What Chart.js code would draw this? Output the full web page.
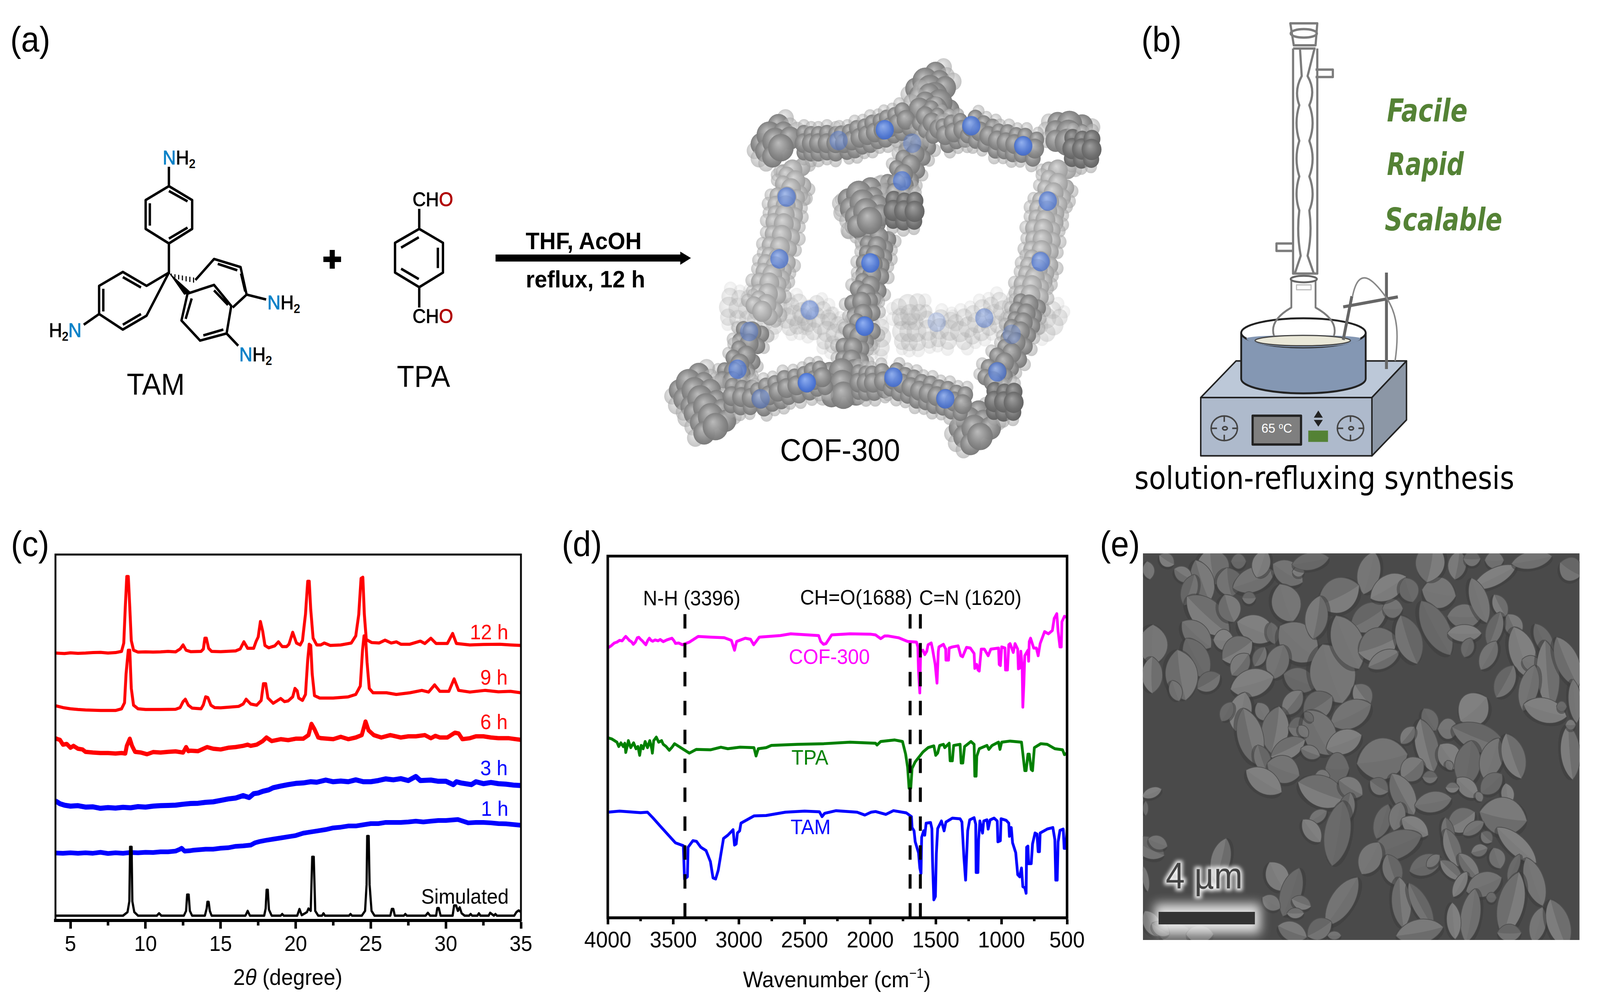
<!DOCTYPE html>
<html><head><meta charset="utf-8">
<script src="https://cdn.jsdelivr.net/npm/chart.js@4"></script>
<style>
html,body{margin:0;padding:0;background:#fff;width:100%;height:100%;overflow:hidden}
#stage{position:absolute;left:0;top:0;width:4386px;height:2553px;transform-origin:0 0;background:#fff}
svg{position:absolute;left:0;top:0}
canvas{position:absolute}
text{font-family:"Liberation Sans",Arial,sans-serif}
.ns{vector-effect:non-scaling-stroke}
</style></head><body>
<div id="stage">
<svg id="art" width="4386" height="2553" viewBox="0 0 4386 2553" xmlns="http://www.w3.org/2000/svg">
<defs>
<radialGradient id="gK" cx=".5" cy=".5" r=".6" fx=".4" fy=".32"><stop offset="0" stop-color="#a0a0a0"/><stop offset=".6" stop-color="#727272"/><stop offset="1" stop-color="#5c5c5c"/></radialGradient>
<radialGradient id="gD" cx=".5" cy=".5" r=".6" fx=".4" fy=".32"><stop offset="0" stop-color="#bcbcbc"/><stop offset=".6" stop-color="#8a8a8a"/><stop offset="1" stop-color="#6e6e6e"/></radialGradient>
<radialGradient id="gM" cx=".5" cy=".5" r=".6" fx=".4" fy=".32"><stop offset="0" stop-color="#d8d8d8"/><stop offset=".7" stop-color="#a8a8a8"/><stop offset="1" stop-color="#929292"/></radialGradient>
<radialGradient id="gB" cx=".5" cy=".5" r=".6" fx=".4" fy=".32"><stop offset="0" stop-color="#8fb0f5"/><stop offset=".7" stop-color="#4a75d8"/><stop offset="1" stop-color="#3c62c0"/></radialGradient>
<clipPath id="semClip"><rect x="3133" y="1417" width="1197" height="990"/></clipPath>
<filter id="blur14" x="-30%" y="-60%" width="160%" height="220%"><feGaussianBlur stdDeviation="14"/></filter>
<filter id="blur5" x="-30%" y="-30%" width="160%" height="160%"><feGaussianBlur stdDeviation="5"/></filter>
</defs>

<!-- panel letters -->
<g font-size="90" fill="#000">
<text x="28" y="132">(a)</text><text x="3129" y="132">(b)</text>
<text x="30" y="1424">(c)</text><text x="1540" y="1424">(d)</text><text x="3015" y="1424">(e)</text>
</g>

<!-- (a) structures -->
<g transform="scale(1.2755,.829)" fill="none" stroke="#000" stroke-width="6.5" stroke-linejoin="round">
<path class="ns" d="M363,575 L413,618 V707 L363,752 L313,707 V618 Z M363,590 L403,622 M363,737 L403,703 M322,628 V697 M363,575 V515 M363,752 V842"/>
<path class="ns" d="M363,842 L315,883 L264,840 L213,883 V970 L264,1018 L315,975 Z M264,856 L303,888 M222,892 V962 M264,1003 L303,970 M213,970 L180,1003"/>
<path class="ns" d="M420,865 L460,800 L517,825 L530,910 L500,950 M468,815 L510,835 M518,845 L527,900 M530,910 L572,925"/>
<path class="ns" d="M403,907 L460,880 L497,945 L487,1030 L430,1052 L390,990 Z M412,922 L399,985 M437,1036 L480,1018 M460,897 L490,942 M487,1030 L512,1068"/>
<path class="ns" d="M901,707 L952,750 V842 L901,887 L849,842 V750 Z M862,765 L900,733 M941,765 V828 M862,830 L900,862 M901,707 V645 M901,887 V950"/>
<path d="M363,842 L410,903 L396,910 Z" fill="#000" stroke="#000" stroke-width="1" class="ns"/>
<path class="ns" d="M368,845 V853 M376,847 V858 M384,849 V863 M392,851 V866 M400,853 V869 M408,855 V871 M416,857 V873" stroke-width="3"/>
<path class="ns" d="M695,801 H733 M714,772 V830" stroke-width="14"/>
<path class="ns" d="M1065,797 H1465" stroke-width="18"/>
<path d="M1462,777 L1485,797 L1462,818 Z" fill="#000" stroke="none"/>
</g>
<g font-size="50" stroke-width="1.2" fill="#000" stroke="#000">
<text x="446" y="421"><tspan fill="#0a82c8" stroke="#0a82c8">N</tspan>H<tspan font-size="31" dy="9">2</tspan></text>
<text x="134" y="863">H<tspan font-size="31" dy="9">2</tspan><tspan dy="-9" fill="#0a82c8" stroke="#0a82c8">N</tspan></text>
<text x="733" y="792"><tspan fill="#0a82c8" stroke="#0a82c8">N</tspan>H<tspan font-size="31" dy="9">2</tspan></text>
<text x="656" y="925"><tspan fill="#0a82c8" stroke="#0a82c8">N</tspan>H<tspan font-size="31" dy="9">2</tspan></text>
<text x="1131" y="528">CH<tspan fill="#b00000" stroke="#b00000">O</tspan></text>
<text x="1131" y="827">CH<tspan fill="#b00000" stroke="#b00000">O</tspan></text>
</g>
<g font-size="78" fill="#000" text-anchor="middle">
<text x="427" y="1011">TAM</text><text x="1161" y="991">TPA</text>
</g>
<g font-size="62" font-weight="700" fill="#000" text-anchor="middle">
<text x="1600" y="638">THF, AcOH</text><text x="1605" y="736">reflux, 12 h</text>
</g>
<g id="cof"></g>
<text x="2303" y="1180" font-size="80" fill="#000" text-anchor="middle">COF-300</text>

<!-- (b) reflux set-up -->
<g transform="translate(2900,0) scale(.948,.829)" stroke-linejoin="round">
<g fill="none" stroke="#7c7c7c" stroke-width="6">
<path class="ns" d="M672,72 H750 L745,140 H682 Z M680,150 H745 M680,150 V845 H750 V150"/>
<ellipse class="ns" cx="711" cy="103" rx="38" ry="13"/>
<path class="ns" d="M745,215 H795 V238 H745 M680,752 H632 V775 H680"/>
<path class="ns" d="M700,150 L705,235 Q682,280 698,325 Q682,380 698,435 Q682,490 698,545 Q682,600 698,650 Q690,720 702,790 L685,845"/>
<path class="ns" d="M742,150 L722,235 Q746,280 727,325 Q746,380 727,435 Q746,490 727,545 Q746,600 727,650 Q736,720 722,790 L740,845"/>
</g>
<path d="M515,1115 H1008 L908,1228 H413 Z" fill="#bcc8d8" stroke="#222" stroke-width="4" class="ns"/>
<path d="M908,1228 L1008,1115 V1297 L908,1408 Z" fill="#8c97a6" stroke="#222" stroke-width="4" class="ns"/>
<rect x="413" y="1228" width="495" height="180" fill="#aebacc" stroke="#222" stroke-width="4" class="ns"/>
<path d="M530,1028 V1170 A180,45 0 0 0 890,1170 V1028 Z" fill="#8497b3" stroke="#222" stroke-width="5" class="ns"/>
<ellipse cx="710" cy="1028" rx="180" ry="45" fill="#fff" stroke="#222" stroke-width="5" class="ns"/>
<path d="M545,1045 A165,28 0 0 0 875,1045 A165,10 0 0 0 545,1045 Z" fill="#8497b3" stroke="none"/>
<ellipse cx="708" cy="1052" rx="138" ry="16" fill="#eae8d8" stroke="#444" stroke-width="3" class="ns"/>
<path d="M675,860 V950 Q610,990 625,1038 M745,860 V950 Q812,990 798,1038" fill="none" stroke="#7c7c7c" stroke-width="5" class="ns"/>
<path d="M690,880 H732 V895 H690 Z" fill="none" stroke="#bbb" stroke-width="3" class="ns"/>
<ellipse cx="711" cy="862" rx="38" ry="10" fill="#fff" stroke="#666" stroke-width="5" class="ns"/>
<path d="M850,915 L825,1050 M950,842 V1140 M825,948 L983,917" fill="none" stroke="#666" stroke-width="8" class="ns"/>
<path d="M852,915 C870,820 910,860 950,920 C985,975 985,1040 975,1115" fill="none" stroke="#888" stroke-width="4" class="ns"/>
<rect x="563" y="1284" width="140" height="89" fill="#7f7f7f" stroke="#222" stroke-width="6" class="ns"/>
<path d="M753,1268 L766,1290 H740 Z M753,1318 L766,1297 H740 Z" fill="#222"/>
<rect x="724" y="1330" width="57" height="35" fill="#548235"/>
<g fill="none" stroke="#444" stroke-width="4">
<circle class="ns" cx="481" cy="1323" r="38"/><ellipse class="ns" cx="483" cy="1323" rx="7" ry="5"/>
<path class="ns" d="M443,1323 H460 M504,1323 H519 M481,1285 V1303 M481,1343 V1361"/>
<circle class="ns" cx="846" cy="1323" r="38"/><ellipse class="ns" cx="848" cy="1323" rx="7" ry="5"/>
<path class="ns" d="M808,1323 H825 M869,1323 H884 M846,1285 V1303 M846,1343 V1361"/>
</g>
</g>
<text x="3500" y="1108" font-size="34" fill="#fff" text-anchor="middle">65 <tspan font-size="22" dy="-10">o</tspan><tspan dy="10">C</tspan></text>
<g fill="#548235" font-style="italic" font-weight="700" font-size="80">
<text x="3802" y="311" textLength="221" lengthAdjust="spacingAndGlyphs" style="font-family:'DejaVu Sans'">Facile</text>
<text x="3802" y="448" textLength="211" lengthAdjust="spacingAndGlyphs" style="font-family:'DejaVu Sans'">Rapid</text>
<text x="3796" y="590" textLength="322" lengthAdjust="spacingAndGlyphs" style="font-family:'DejaVu Sans'">Scalable</text>
</g>
<text x="3110" y="1252" font-size="80" fill="#000" textLength="1041" lengthAdjust="spacingAndGlyphs" style="font-family:'DejaVu Sans'">solution-refluxing synthesis</text>

<!-- (e) SEM -->
<g clip-path="url(#semClip)">
<rect x="3133" y="1417" width="1197" height="990" fill="#4a4a4a"/>
<g id="sem"></g>
<rect x="3165" y="2315" width="290" height="75" fill="#f4f4f4" opacity=".9" filter="url(#blur14)"/>
<rect x="3176" y="2335" width="264" height="32" fill="#333"/>
<text x="3301" y="2275" font-size="94" text-anchor="middle" fill="none" stroke="#eee" stroke-width="12" filter="url(#blur5)">4 µm</text>
<text x="3301" y="2275" font-size="94" text-anchor="middle" fill="#444">4 µm</text>
</g>
</svg>
<canvas id="chartC" width="1440" height="1173" style="left:60px;top:1380px"></canvas>
<canvas id="chartD" width="1480" height="1173" style="left:1520px;top:1380px"></canvas>
</div>
<script>
// The browser window may be narrower than the 4386 x 2553 layout: fit the whole stage to it.
document.getElementById('stage').style.transform=`scale(${innerWidth/4386},${innerHeight/2553})`;

// ---------- Panel (c): PXRD traces. x = 2-theta (degree); y = reading below the frame top (a.u.) ----------
const xrdTicks=[5,10,15,20,25,30,35];
const xrdMinor=[7.5,12.5,17.5,22.5,27.5,32.5];
const h12=[[4,412],[4.6,414],[5,411],[5.5,413],[6,412],[6.5,410],[7,409],[7.5,412],[8,410],[8.4,405],[8.55,370],[8.65,220],[8.75,92],[8.85,92],[8.95,220],[9.05,360],[9.2,400],[9.5,408],[10,407],[10.5,408],[11,407],[11.5,405],[12,407],[12.3,395],[12.5,378],[12.7,400],[13,406],[13.7,405],[13.85,395],[13.95,350],[14.05,350],[14.2,392],[14.4,405],[15,406],[16,403],[16.3,395],[16.55,365],[16.8,392],[17.2,392],[17.35,365],[17.5,345],[17.65,280],[17.8,320],[17.95,380],[18.2,390],[18.6,382],[18.85,365],[19.1,385],[19.4,385],[19.55,375],[19.8,325],[20.05,370],[20.3,378],[20.45,360],[20.65,250],[20.8,112],[20.9,112],[21,230],[21.16,350],[21.4,378],[21.67,378],[21.9,370],[22.3,380],[23,378],[23.7,370],[24,340],[24.2,250],[24.35,100],[24.47,95],[24.57,250],[24.7,355],[25.05,368],[25.55,370],[25.95,358],[26.36,370],[26.7,365],[27,375],[27.6,375],[28.3,362],[28.6,372],[29,350],[29.35,372],[30.1,372],[30.45,330],[30.7,372],[31.6,378],[32.5,376],[33.6,375],[34.3,378],[35,380]];
const h9=[[4,632],[4.5,640],[5,645],[5.5,648],[6,650],[7,652],[8,652],[8.4,645],[8.6,620],[8.7,500],[8.85,400],[8.95,400],[9.05,560],[9.2,630],[9.5,645],[10,648],[11,648],[12,647],[12.3,640],[12.5,615],[12.65,605],[12.85,630],[13.1,642],[13.7,645],[13.85,628],[14,595],[14.15,598],[14.35,630],[14.6,640],[15,641],[16.2,635],[16.5,625],[16.7,605],[17,625],[17.4,630],[17.7,610],[17.85,540],[18,540],[18.15,600],[18.5,622],[18.8,610],[19,602],[19.25,615],[19.5,612],[19.8,595],[19.95,560],[20.1,570],[20.2,600],[20.45,610],[20.65,585],[20.8,440],[20.9,375],[21,380],[21.1,500],[21.25,590],[21.6,600],[22.5,600],[23.5,595],[24,585],[24.3,550],[24.45,400],[24.55,340],[24.65,340],[24.75,450],[24.9,560],[25.15,578],[26.05,578],[26.7,585],[27.6,578],[28.4,568],[28.85,575],[29.25,545],[29.6,572],[30.2,572],[30.55,520],[30.85,568],[31.6,575],[32.6,568],[33.5,574],[34.3,572],[35,578]];
const h6=[[4,768],[4.15,772],[4.3,775],[4.5,795],[4.75,792],[5,808],[5.2,800],[5.5,812],[5.8,815],[6,825],[6.5,828],[7,830],[7.5,830],[8,832],[8.4,830],[8.65,832],[8.75,800],[8.95,770],[9.1,800],[9.3,825],[9.7,828],[10.1,835],[10.5,826],[11,828],[11.5,825],[12,823],[12.5,828],[12.7,805],[12.85,822],[13,820],[13.5,822],[14.1,805],[14.5,812],[15,815],[15.5,808],[16,805],[16.5,800],[16.8,795],[17,800],[17.4,795],[17.8,780],[18.05,765],[18.4,780],[19,772],[19.5,776],[20,770],[20.5,770],[20.85,755],[21.05,708],[21.25,730],[21.5,765],[21.7,768],[22.1,770],[22.5,772],[23,762],[23.5,772],[24,765],[24.4,755],[24.65,698],[24.85,735],[25.2,755],[25.7,765],[26.3,755],[27,765],[27.5,760],[28,760],[28.6,755],[29,768],[29.3,758],[29.6,765],[30.1,765],[30.6,745],[30.85,748],[31.1,772],[31.6,768],[32,760],[32.5,760],[33,765],[33.5,768],[34.2,768],[35,775]];
const h3=[[4,1030],[4.3,1042],[4.6,1048],[5,1052],[5.5,1050],[6,1056],[6.5,1055],[7,1061],[7.5,1058],[8,1060],[8.5,1057],[9,1059],[9.5,1054],[10,1056],[10.5,1052],[11,1050],[11.5,1049],[12,1048],[12.5,1044],[13,1041],[13.5,1040],[14,1036],[14.5,1034],[15,1028],[15.5,1022],[16,1018],[16.5,1008],[16.9,1016],[17.2,1000],[17.5,997],[17.8,990],[18.2,984],[18.5,975],[19,968],[19.5,962],[20,957],[20.5,955],[21,950],[21.4,952],[22,943],[22.5,950],[23,947],[23.5,950],[24,942],[24.5,950],[25,950],[25.5,945],[26,938],[26.5,942],[27,937],[27.5,945],[28,928],[28.3,945],[29,943],[29.5,948],[30,948],[30.5,962],[30.7,950],[31,955],[31.7,962],[32,950],[32.5,958],[33,953],[33.5,958],[34,960],[34.5,964],[35,966]];
const h1=[[4,1248],[4.5,1249],[5,1247],[5.5,1249],[6,1247],[6.5,1249],[7,1245],[7.5,1250],[8,1247],[8.5,1249],[9,1246],[9.5,1247],[10,1245],[10.5,1246],[11,1243],[11.5,1243],[12,1240],[12.3,1232],[12.4,1228],[12.6,1240],[13,1238],[13.2,1236],[14,1232],[14.5,1232],[15,1228],[15.5,1226],[16,1220],[16.5,1218],[17,1215],[17.3,1205],[17.6,1200],[18,1195],[18.5,1190],[19,1185],[19.5,1180],[20,1175],[20.5,1165],[21,1160],[21.5,1155],[22,1150],[22.5,1143],[23,1140],[23.5,1135],[24,1135],[24.5,1130],[25,1125],[25.5,1125],[26,1120],[26.5,1120],[27,1120],[27.5,1118],[28,1115],[28.5,1118],[29,1115],[29.5,1112],[30,1112],[30.8,1108],[31.2,1116],[31.5,1122],[32,1120],[32.5,1120],[33,1122],[33.5,1125],[34,1126],[35,1132]];
const simulated=[[4,1510],[8.5,1510],[8.8,1495],[8.92,1450],[8.97,1222],[9.07,1222],[9.12,1450],[9.25,1495],[9.5,1510],[10.75,1510],[10.9,1500],[11.05,1510],[12.55,1510],[12.7,1490],[12.77,1422],[12.87,1422],[12.95,1490],[13.1,1510],[13.95,1510],[14.07,1480],[14.12,1452],[14.2,1452],[14.28,1490],[14.4,1510],[16.65,1510],[16.8,1490],[16.95,1510],[17.9,1510],[18,1480],[18.06,1402],[18.14,1402],[18.22,1485],[18.4,1510],[19,1510],[19.1,1503],[19.2,1510],[20.1,1510],[20.25,1482],[20.4,1508],[20.75,1495],[20.85,1480],[21,1490],[21.1,1264],[21.2,1264],[21.3,1490],[21.5,1510],[21.75,1510],[21.85,1500],[21.95,1510],[23.55,1510],[23.65,1503],[23.75,1510],[24.4,1510],[24.62,1490],[24.72,1380],[24.76,1177],[24.86,1177],[24.92,1380],[25.05,1490],[25.25,1510],[26.3,1510],[26.4,1482],[26.5,1482],[26.6,1510],[27.2,1510],[27.3,1503],[27.4,1510],[28.65,1510],[28.8,1498],[28.95,1510],[29.35,1510],[29.43,1478],[29.53,1478],[29.65,1510],[30.45,1510],[30.55,1467],[30.68,1467],[30.8,1490],[30.92,1475],[31.05,1500],[31.25,1510],[31.55,1510],[31.65,1503],[31.75,1510],[32.1,1510],[32.2,1500],[32.3,1510],[32.85,1510],[32.95,1498],[33.05,1503],[33.2,1510],[33.3,1503],[33.4,1510],[34.55,1510],[34.7,1495],[34.85,1488],[35,1495]];
const xrdLabels=["12 h","9 h","6 h","3 h","1 h","Simulated"];
const xrdLabelX=[32.88,33.2,33.2,33.2,33.25,31.27];
const xrdLabelY=[330,520,705,898,1068,1435];
const xrdColors=["#ff0000","#ff0000","#ff0000","#0000ff","#0000ff","#000000"];

// ---------- Panel (d): FTIR traces. x = wavenumber (cm-1); y = reading below the plot top line (a.u.) ----------
const irTicks=[4000,3500,3000,2500,2000,1500,1000,500];
const irMinor=[3750,3250,2750,2250,1750,1250,750];
const cof300=[[4000,285],[3975,275],[3950,262],[3930,258],[3910,250],[3890,252],[3875,240],[3863,232],[3850,240],[3836,250],[3820,256],[3805,268],[3790,258],[3775,238],[3763,236],[3750,245],[3737,252],[3722,262],[3710,270],[3695,250],[3683,240],[3670,250],[3657,254],[3640,248],[3617,252],[3600,246],[3577,256],[3550,248],[3511,240],[3495,252],[3484,264],[3460,262],[3431,270],[3378,258],[3311,232],[3218,235],[3112,238],[3058,250],[3034,295],[3018,255],[2952,240],[2912,245],[2888,270],[2845,235],[2686,228],[2606,220],[2393,228],[2377,255],[2356,268],[2337,265],[2294,225],[2154,220],[1994,222],[1959,225],[1920,242],[1891,230],[1862,230],[1784,238],[1715,255],[1647,258],[1637,280],[1632,390],[1622,490],[1616,300],[1598,295],[1584,315],[1569,300],[1559,270],[1535,262],[1525,290],[1505,360],[1491,445],[1481,300],[1476,280],[1442,268],[1425,290],[1423,340],[1403,340],[1398,285],[1374,280],[1330,275],[1310,320],[1296,325],[1266,282],[1237,285],[1208,310],[1203,378],[1188,360],[1179,385],[1169,390],[1154,290],[1130,290],[1101,320],[1081,290],[1022,285],[1017,360],[1008,365],[998,280],[973,285],[969,385],[954,385],[944,270],[934,265],[910,305],[896,265],[876,290],[871,380],[857,375],[852,300],[842,370],[837,555],[829,450],[822,320],[798,295],[793,345],[788,255],[778,240],[754,285],[734,285],[720,320],[705,265],[671,210],[642,220],[612,205],[598,150],[578,128],[568,210],[554,280],[544,280],[539,165],[520,140],[500,145]];
const tpa=[[4000,695],[3970,700],[3949,708],[3930,715],[3916,735],[3900,718],[3882,735],[3870,720],[3863,762],[3850,730],[3843,708],[3825,740],[3803,718],[3785,745],[3770,735],[3757,775],[3745,730],[3730,745],[3715,712],[3697,740],[3680,708],[3665,745],[3660,765],[3650,708],[3630,692],[3612,715],[3590,708],[3577,725],[3555,735],[3531,752],[3510,738],[3491,722],[3470,730],[3431,745],[3378,765],[3325,748],[3218,750],[3138,738],[3085,745],[2992,738],[2886,740],[2870,778],[2853,745],[2793,740],[2753,730],[2554,725],[2354,722],[2154,715],[1959,720],[1948,728],[1920,712],[1813,705],[1754,712],[1730,770],[1715,830],[1704,925],[1691,925],[1681,835],[1657,805],[1598,760],[1559,740],[1515,732],[1501,775],[1486,765],[1471,730],[1442,725],[1432,740],[1398,720],[1391,800],[1374,800],[1364,730],[1315,725],[1307,810],[1294,810],[1281,735],[1232,712],[1208,725],[1203,870],[1193,870],[1188,780],[1169,745],[1110,730],[1096,748],[1071,730],[1022,715],[1011,748],[998,715],[934,710],[847,715],[822,845],[812,845],[798,770],[788,770],[773,840],[763,845],[749,740],[700,722],[651,725],[593,745],[534,750],[520,772],[500,765]];
const tam=[[4000,1035],[3910,1030],[3750,1037],[3697,1035],[3657,1060],[3590,1105],[3484,1175],[3424,1188],[3415,1340],[3393,1330],[3388,1195],[3351,1165],[3324,1168],[3291,1195],[3251,1210],[3218,1260],[3198,1335],[3178,1340],[3158,1300],[3118,1155],[3085,1140],[3045,1115],[3034,1185],[3021,1180],[3012,1130],[2995,1120],[2985,1085],[2886,1052],[2793,1050],[2646,1035],[2500,1030],[2387,1033],[2367,1055],[2347,1040],[2260,1028],[2100,1035],[2041,1048],[1994,1035],[1959,1032],[1881,1045],[1823,1028],[1725,1038],[1686,1055],[1681,1105],[1666,1120],[1657,1170],[1632,1220],[1622,1290],[1613,1315],[1608,1150],[1593,1120],[1584,1140],[1574,1085],[1540,1082],[1530,1110],[1525,1260],[1515,1435],[1503,1420],[1496,1225],[1486,1110],[1457,1075],[1437,1120],[1423,1080],[1374,1062],[1315,1065],[1301,1080],[1286,1240],[1273,1345],[1265,1230],[1257,1120],[1242,1070],[1208,1060],[1196,1090],[1193,1310],[1179,1310],[1174,1160],[1164,1075],[1144,1130],[1135,1075],[1110,1070],[1101,1112],[1086,1070],[1056,1062],[1032,1075],[1027,1170],[1008,1165],[1003,1065],[964,1072],[944,1085],[939,1145],[925,1105],[915,1175],[891,1220],[876,1320],[861,1330],[847,1290],[837,1375],[822,1380],[812,1405],[808,1195],[798,1190],[793,1270],[773,1270],[763,1180],[744,1130],[729,1135],[720,1215],[710,1215],[705,1130],[651,1112],[608,1105],[593,1160],[586,1345],[575,1345],[568,1170],[554,1118],[529,1112],[522,1200],[510,1200],[500,1115]];
const irMarkers=[3412,1696,1618];            // dashed guides as placed in the picture
const irMarkerSpan=[130,1517];               // guide start and end on the y reading
const irLabels=["N-H (3396)","CH=O(1688)","C=N (1620)","COF-300","TPA","TAM"];
const irLabelX=[3360,2107,1237,2312,2460,2454];
const irLabelY=[64,60,62,330,791,1109];
const irColors=["#000000","#000000","#000000","#ff00ff","#008000","#0000ff"];

const FONT='"Liberation Sans", Arial, sans-serif';
function toXY(a){return a.map(p=>({x:p[0],y:p[1]}));}
function trace(data,color,w,extra){return Object.assign({data:toXY(data),borderColor:color,borderWidth:w,pointRadius:0,tension:0,fill:false,borderJoinStyle:'round',borderCapStyle:'butt'},extra||{});}

function decor(cfg){return {id:'decor',afterDatasetsDraw(chart){
  const c=chart.ctx,a=chart.chartArea,X=chart.scales.x,Y=chart.scales.y;
  c.save();
  c.strokeStyle='#000';c.lineWidth=cfg.frame;c.strokeRect(a.left,a.top,a.right-a.left,a.bottom-a.top);
  c.lineWidth=cfg.minorW;
  cfg.minor.forEach(v=>{const p=X.getPixelForValue(v);c.beginPath();c.moveTo(p,a.bottom);c.lineTo(p,a.bottom+cfg.minorLen);c.stroke();});
  c.textAlign='center';c.textBaseline='middle';c.font='54px '+FONT;
  cfg.labels.forEach((t,i)=>{c.fillStyle=cfg.colors[i];c.fillText(t,X.getPixelForValue(cfg.lx[i]),Y.getPixelForValue(cfg.ly[i]));});
  const sz=cfg.titleSize;let w=0;
  cfg.title.forEach(r=>{c.font=(r.i?'italic ':'')+(r.s?sz*r.s:sz)+'px '+FONT;w+=c.measureText(r.t).width;});
  let x=cfg.titleX-w/2;c.textAlign='left';c.textBaseline='alphabetic';c.fillStyle='#000';
  cfg.title.forEach(r=>{c.font=(r.i?'italic ':'')+(r.s?sz*r.s:sz)+'px '+FONT;c.fillText(r.t,x,cfg.titleY-(r.up||0));x+=c.measureText(r.t).width;});
  c.restore();
}};}

function axisX(min,max,rev,ticks,h,fs,pad,tl,tw,bw){return {type:'linear',min,max,reverse:rev,
  afterBuildTicks(s){s.ticks=ticks.map(v=>({value:v}));},
  afterFit(s){s.height=h;s.paddingLeft=0;s.paddingRight=0;},
  grid:{drawOnChartArea:false,drawTicks:true,tickLength:tl,tickWidth:tw,tickColor:'#000'},
  border:{display:true,color:'#000',width:bw},
  ticks:{color:'#000',font:{family:FONT,size:fs},padding:pad,maxRotation:0,minRotation:0,autoSkip:false,callback:v=>String(v)}};}
function axisY(min,max){return {type:'linear',display:false,reverse:true,min,max,afterFit(s){s.width=0;}};}

const base={responsive:false,animation:false,devicePixelRatio:1,plugins:{legend:{display:false},tooltip:{enabled:false}}};

new Chart(document.getElementById('chartC'),{type:'line',
 data:{datasets:[trace(simulated,'#000',6),trace(h12,'#ff0000',8),trace(h9,'#ff0000',8),trace(h6,'#ff0000',11),trace(h3,'#0000ff',13),trace(h1,'#0000ff',12)]},
 options:Object.assign({},base,{layout:{padding:{left:92,top:40,right:72,bottom:0}},
  scales:{x:axisX(4,35,false,xrdTicks,196,56,8,21,7,8),y:axisY(0,1530)}}),
 plugins:[decor({frame:5,minor:xrdMinor,minorLen:13,minorW:7,labels:xrdLabels,lx:xrdLabelX,ly:xrdLabelY,colors:xrdColors,
   title:[{t:'2'},{t:'θ',i:true},{t:' (degree)'}],titleSize:58,titleX:789-60,titleY:2522-1380})]});

new Chart(document.getElementById('chartD'),{type:'line',
 data:{datasets:[
  ...irMarkers.map(m=>trace([[m,irMarkerSpan[0]],[m,irMarkerSpan[1]]],'#000',8,{borderDash:[37,37]})),
  trace(cof300,'#ff00ff',7.5),trace(tpa,'#008000',7.5),trace(tam,'#0000ff',7.5)]},
 options:Object.assign({},base,{layout:{padding:{left:146,top:44,right:75,bottom:0}},
  scales:{x:axisX(500,4000,true,irTicks,203,58,8,17,7,7),y:axisY(-135,1517)}}),
 plugins:[decor({frame:7,minor:irMinor,minorLen:9,minorW:7,labels:irLabels,lx:irLabelX,ly:irLabelY,colors:irColors,
   title:[{t:'Wavenumber (cm'},{t:'−1',s:.6,up:24},{t:')'}],titleSize:58,titleX:2294-1520,titleY:2528-1380})]});

// ---------- Illustrations (not data) ----------
const NS='http://www.w3.org/2000/svg';
function el(parent,name,attrs){const e=document.createElementNS(NS,name);for(const k in attrs)e.setAttribute(k,attrs[k]);parent.appendChild(e);return e;}

// COF-300 space-filling model, strands in the crop's reading coordinates
const cofPt=(x,y)=>[1840+x*.791,160+y*.689];
const ghost=[[[200,910],[300,920],[400,950],[480,920],[540,1000],[600,1020],[760,1020]],[[800,1000],[850,1000],[930,990],[1000,1000],[1090,950],[1180,910],[1300,950],[1350,1000]],[[820,900],[835,975]]];
const lightStrands=[
 [[420,400],[430,440],[400,500],[390,600],[370,730],[340,820],[330,900],[300,950]],
 [[1340,400],[1340,450],[1310,520],[1290,620],[1280,740],[1250,830],[1240,900]]];
const midStrands=[
 [[1240,900],[1210,1000],[1180,1080],[1130,1150],[1100,1220]],
 [[280,1000],[260,1090],[215,1150],[205,1220]],
 [[860,300],[830,380],[780,450],[770,520]],
 [[640,500],[650,580],[720,650],[700,750],[690,830],[660,890],[670,980],[630,1060],[620,1150]]];
const darkStrands=[
 [[460,300],[510,300],[600,300],[680,270],[760,240],[840,200]],
 [[880,200],[950,270],[1040,240],[1130,290],[1220,310],[1300,330]],
 [[210,1240],[310,1250],[400,1210],[470,1190],[550,1160]],
 [[650,1190],[700,1190],[770,1180],[860,1220],[950,1250],[1040,1280]]];
const corners=[[[340,270],[400,340]],[[1380,230],[1370,330]],[[880,70],[930,150],[880,230]],[[60,1190],[120,1280],[170,1390]],[[1030,1330],[1090,1420]],[[590,1150],[600,1280]],[[650,490],[700,620]]];
const darkKnots=[[[770,550],[880,555]],[[1390,320],[1490,325]],[[1120,1260],[1220,1265]]];
const blueNodes=[[740,250,.9],[1040,235,.85],[1220,310,.9],[400,500,.65],[375,730,.7],[1305,515,.7],[1280,740,.7],[690,745,.9],[670,980,.95],[230,1140,.7],[470,1190,.95],[770,1170,.9],[950,1250,.85],[1130,1150,.7],[800,440,.7],[580,290,.45],[835,300,.4],[480,920,.5],[1085,950,.45],[920,965,.25],[270,1000,.45],[310,1250,.45],[1180,1010,.35]];
const cof=document.getElementById('cof');
function ball(g,x,y,r,fill,op){el(g,'circle',{cx:x.toFixed(1),cy:y.toFixed(1),r,fill:`url(#${fill})`,opacity:op});}
function strandBalls(pts,fill,op,scale){
 for(let k=0;k<pts.length-1;k++){
  const A=cofPt(...pts[k]),B=cofPt(...pts[k+1]),dx=B[0]-A[0],dy=B[1]-A[1],L=Math.hypot(dx,dy),n=Math.max(1,Math.round(L/26));
  const ux=dx/L,uy=dy/L;
  for(let i=0;i<n;i++){const t=i/n,x=A[0]+dx*t,y=A[1]+dy*t,s=((i+k)%2)?1:-1;
   ball(cof,x-uy*46*s*scale,y+ux*46*s*scale,17*scale,'gM',op*.6);
   ball(cof,x+uy*42*s*scale,y-ux*42*s*scale,16*scale,'gM',op*.6);
   ball(cof,x-uy*26*s*scale,y+ux*26*s*scale,22*scale,fill,op);
   ball(cof,x+uy*24*s*scale,y-ux*24*s*scale,21*scale,fill,op);
   ball(cof,x,y,26*scale,fill,op);}
 }}
ghost.forEach(s=>strandBalls(s,'gM',.3,1.05));
lightStrands.forEach(s=>strandBalls(s,'gM',.97,1.05));
midStrands.forEach(s=>strandBalls(s,'gD',.97,1));
corners.forEach(s=>strandBalls(s,'gD',.97,1.35));
darkStrands.forEach(s=>strandBalls(s,'gD',.97,.98));
darkKnots.forEach(s=>strandBalls(s,'gK',1,1.05));
blueNodes.forEach(n=>{const p=cofPt(n[0],n[1]);ball(cof,p[0],p[1],25,'gB',n[2]);});

// SEM crystals: [x, y, half length, half width, angle] in the crop's reading coordinates
const crystals=[[275,75,50,50,80],[240,130,60,35,70],[330,135,40,40,80],[410,125,65,35,-20],[435,65,40,28,-70],[360,55,22,22,0],[60,90,25,18,80],[120,50,25,20,30],[175,105,30,22,30],[195,165,45,25,-70],[525,100,50,35,30],[560,95,18,15,0],[600,55,55,25,-10],[520,215,55,45,70],[258,262,80,45,40],[330,235,40,35,70],[395,195,20,18,0],[220,335,55,35,40],[310,355,30,30,0],[220,425,62,38,60],[75,375,55,45,90],[72,490,50,32,90],[170,490,70,50,80],[260,515,38,28,-30],[150,550,30,20,70],
[420,315,60,40,20],[475,330,30,20,80],[560,365,70,55,40],[355,395,50,40,-30],[365,450,38,28,-50],[430,420,30,20,-60],[490,440,50,35,-70],[405,520,65,40,-15],[565,510,50,35,20],[675,485,85,70,70],[775,565,35,30,50],[540,595,42,28,-50],[625,605,48,40,-30],[735,640,65,40,-25],[365,630,55,35,-75],[320,630,30,20,-60],[440,630,28,22,60],[482,700,65,42,-80],[400,725,80,40,75],[560,690,30,30,0],[630,710,70,50,60],[712,745,55,35,-20],[595,650,18,12,45],[577,705,20,15,50],[525,770,55,30,-25],[600,785,30,20,20],[440,810,40,25,70],[510,850,50,40,20],[445,895,60,35,30],[690,845,35,45,0],[640,875,22,18,0],[640,935,75,45,20],[735,920,40,30,30],[720,1000,45,25,-75],[625,1030,30,18,-30],[605,1085,40,25,50],[690,1095,90,40,-80],
[795,100,60,35,-75],[695,185,65,50,-25],[620,270,60,35,-80],[795,270,60,40,-30],[875,235,30,28,0],[860,155,60,35,-30],[930,165,35,30,70],[1030,175,50,45,10],[1000,60,55,45,-80],[1090,70,40,28,-80],[1140,45,25,22,0],[1215,50,28,25,0],[1215,115,70,25,-25],[1020,310,85,40,60],[725,365,80,48,65],[825,375,60,50,-20],[845,430,50,25,-25],[930,355,70,40,70],[1115,265,50,35,0],[1115,330,50,25,0],[1125,385,28,20,-70],[1165,205,65,28,70],[1235,225,35,22,60],[1280,300,35,28,60],[1215,315,50,25,-70],[1195,415,45,25,-60],
[1310,405,75,40,70],[1380,355,50,25,60],[1340,445,30,22,20],[1395,490,95,35,85],[1460,440,75,35,65],[1250,515,50,30,-60],[1330,540,65,30,-75],[1385,625,65,35,15],[1440,610,15,15,0],[1485,590,60,20,85],[1470,785,75,30,85],[1470,680,15,15,0],[1470,85,35,35,30],[1340,50,60,25,-10],
[1145,620,50,48,-40],[1000,660,35,25,60],[1060,695,30,30,0],[990,760,75,35,75],[925,720,30,20,-50],[1165,730,85,40,20],[840,810,75,60,-10],[1065,800,42,35,50],[1125,830,65,40,-80],[1205,810,60,35,-70],[1280,800,65,35,70],[940,850,40,35,-40],[1000,880,22,18,0],[1065,835,15,12,60],[1125,920,40,25,40],[1205,905,40,28,-40],[1165,955,15,12,60],[1075,920,20,15,0],[910,945,65,35,60],[830,915,30,25,30],[1010,975,55,30,-10],[1260,945,30,20,80],[840,1050,50,25,-70],[890,1030,40,25,-75],[1105,1045,45,35,-30],[1245,1030,70,55,10],[1060,1090,40,20,80],[1145,1075,35,18,-30],[950,1070,45,28,30],
[885,1140,80,40,-20],[800,1190,50,35,-60],[1075,1150,55,25,70],[1165,1160,25,18,-15],[1190,1110,20,18,40],[1225,1190,30,25,70],[1290,1140,75,28,40],[985,1215,50,30,-20],[1010,1200,25,15,-40],[1070,1235,40,20,40],[1130,1220,45,22,50],[875,1235,45,30,70],[1180,1290,55,35,-20],[1100,1290,40,18,-60],[1280,1225,40,15,-65],[1350,1280,70,30,70],[1270,1365,90,40,-75],[905,1360,70,30,85],[970,1370,70,25,60],[1135,1410,75,30,-80],[1080,1430,50,22,85],[1205,1340,15,15,0],[1360,1445,50,25,-75],[1430,1440,70,35,70],[965,1470,70,35,-10],[1265,1475,35,25,0],
[705,1355,80,35,-55],[490,1260,45,35,60],[535,1320,70,32,-70],[470,1360,30,22,30],[570,1360,30,20,20],[300,1195,60,30,-75],[60,1150,50,30,25],[90,1130,30,20,20],[70,940,30,15,-20],[50,1000,20,8,90],[50,1270,35,10,80],[550,1400,25,15,0],[540,1470,45,28,20],[630,1460,40,30,-30],[680,1485,20,12,0],[70,1440,40,25,60],[150,1480,50,30,0],[230,1480,40,25,0],[100,1460,30,20,30]];
const shades=['#6e6e6e','#7a7a7a','#666666','#747474','#808080','#6a6a6a','#767676'];
const sem=document.getElementById('sem');
crystals.forEach((c,i)=>{
 const x=3100+c[0]*.82,y=1400+c[1]*.67,a=c[2]*.94,b=c[3]*.88,sh=shades[i%shades.length],sh2=shades[(i+4)%shades.length];
 const g=el(sem,'g',{transform:`translate(${x.toFixed(1)},${y.toFixed(1)}) rotate(${c[4]})`});
 const top=`C${-a*.55},${-b*1.33} ${a*.55},${-b*1.33} ${a},0`,bot=`C${a*.55},${b*1.33} ${-a*.55},${b*1.33} ${-a},0`;
 el(g,'ellipse',{cx:0,cy:5,rx:a*1.02,ry:b*1.08,fill:'#3a3a3a',opacity:.5});
 el(g,'path',{d:`M${-a},0 ${top} ${bot} Z`,fill:sh,stroke:'#525252','stroke-width':2});
 el(g,'path',{d:`M${a},0 ${bot} Q${a*.1},${b*.2} ${a},0 Z`,fill:sh2,opacity:.85});
});
</script>
</body></html>
